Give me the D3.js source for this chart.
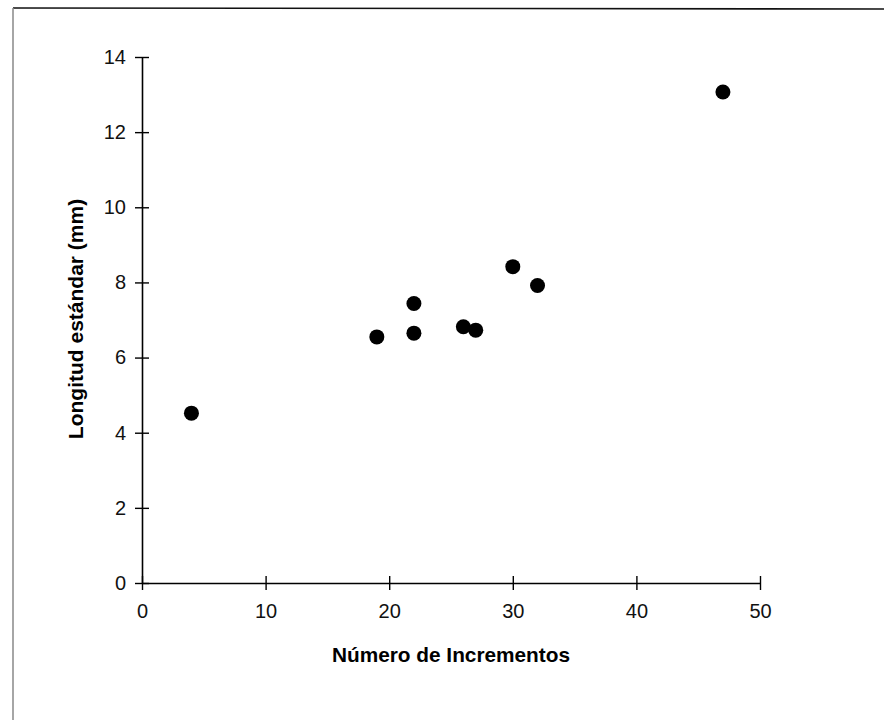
<!DOCTYPE html>
<html><head><meta charset="utf-8">
<script src="https://cdn.jsdelivr.net/npm/d3@7"></script>
<style>body{margin:0;background:#fff}svg{display:block}</style>
</head><body>
<script>
const xValues = [4, 19, 22, 22, 26, 27, 30, 32, 47];
const yValues = [4.52, 6.55, 6.65, 7.44, 6.82, 6.73, 8.42, 7.92, 13.07];
const xTicks = [0, 10, 20, 30, 40, 50];
const yTicks = [0, 2, 4, 6, 8, 10, 12, 14];
const xTitle = "Número de Incrementos";
const yTitle = "Longitud estándar (mm)";

const W = 884, H = 720;
const svg = d3.select("body").append("svg").attr("width", W).attr("height", H);
const font = "'Liberation Sans', Arial, sans-serif";

// scan frame
svg.append("line").attr("x1", 13).attr("x2", W).attr("y1", 8).attr("y2", 9)
  .attr("stroke", "#111").attr("stroke-width", 1.6);
svg.append("line").attr("x1", 13).attr("x2", 13).attr("y1", 8).attr("y2", H)
  .attr("stroke", "#888").attr("stroke-width", 1.5);

const x = d3.scaleLinear().domain([0, 50]).range([142, 760]);
const y = d3.scaleLinear().domain([0, 14]).range([583, 57]);

const gx = svg.append("g").attr("transform", `translate(0,${y(0)})`)
  .call(d3.axisBottom(x).tickValues(xTicks).tickSize(7).tickSizeOuter(0).tickPadding(14));
gx.selectAll(".tick line").attr("y1", -7);
const gy = svg.append("g").attr("transform", `translate(${x(0)},0)`)
  .call(d3.axisLeft(y).tickValues(yTicks).tickSize(7).tickSizeOuter(0).tickPadding(9));
gy.selectAll(".tick line").attr("x1", 7);

[gx, gy].forEach(g => {
  g.select(".domain").attr("stroke", "#000").attr("stroke-width", 1.6);
  g.selectAll(".tick line").attr("stroke", "#000").attr("stroke-width", 1.4);
  g.selectAll(".tick text").attr("font-family", font).attr("font-size", 20).attr("fill", "#111");
});

svg.append("g").selectAll("circle").data(xValues).join("circle")
  .attr("cx", d => x(d)).attr("cy", (d, i) => y(yValues[i])).attr("r", 7.5).attr("fill", "#000");

svg.append("text").attr("x", 451).attr("y", 662).attr("text-anchor", "middle")
  .attr("font-family", font).attr("font-weight", "bold").attr("font-size", 20.8).attr("fill", "#000")
  .text(xTitle);
svg.append("text").attr("transform", "translate(83,319) rotate(-90)").attr("text-anchor", "middle")
  .attr("font-family", font).attr("font-weight", "bold").attr("font-size", 21).attr("fill", "#000")
  .text(yTitle);
</script>
</body></html>
